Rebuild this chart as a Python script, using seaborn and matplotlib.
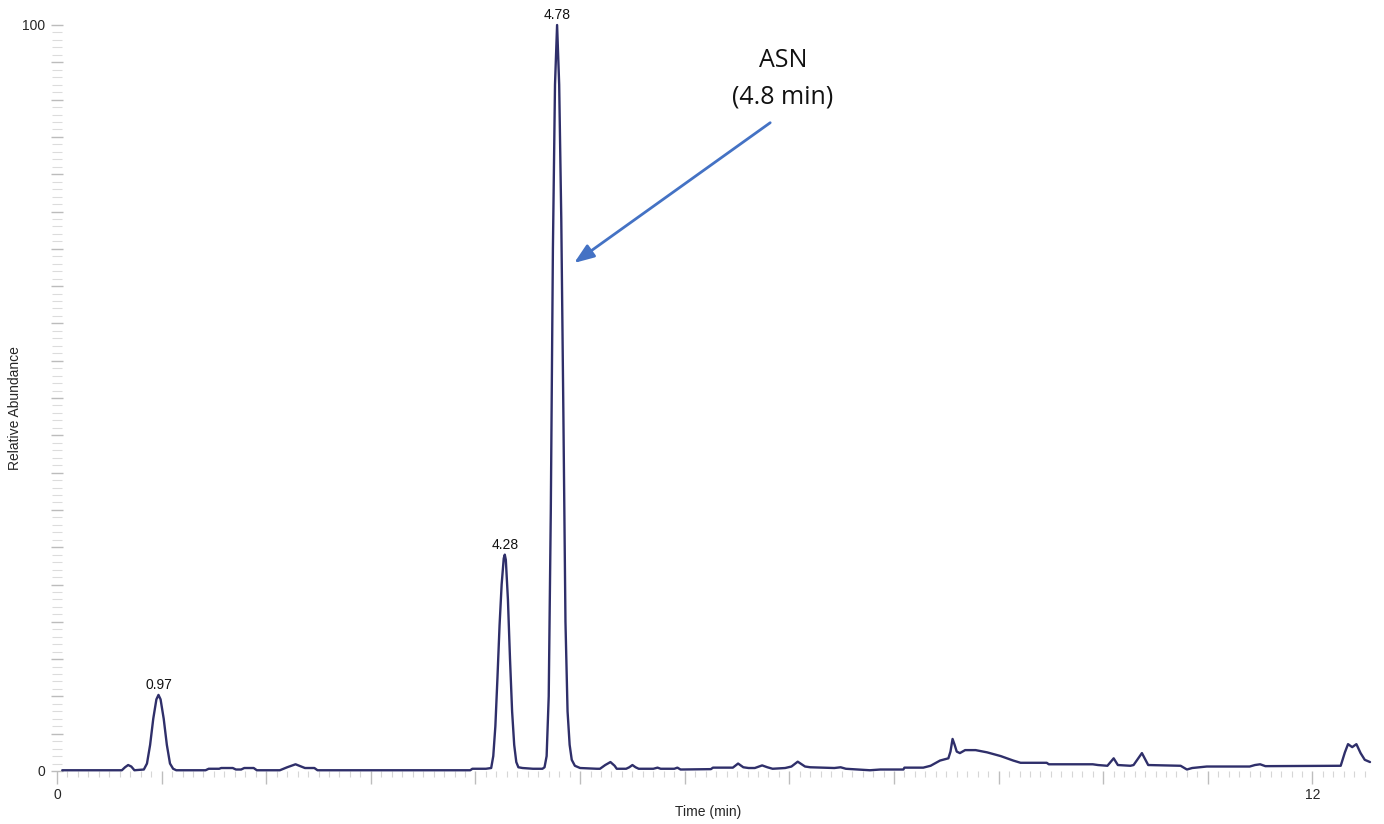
import matplotlib
matplotlib.use("Agg")
import matplotlib.pyplot as plt
from matplotlib.ticker import MultipleLocator, FuncFormatter
import pandas as pd
import seaborn as sns

# Chromatogram trace: retention time (min) and relative abundance (%)
time_min = [
    0.05, 0.62, 0.65, 0.68, 0.71, 0.74, 0.83, 0.86, 0.89, 0.92, 0.95, 0.97,
    0.99, 1.02, 1.05, 1.08, 1.11, 1.14, 1.42, 1.45, 1.55, 1.57, 1.68, 1.71,
    1.76, 1.79, 1.88, 1.91, 2.13, 2.20, 2.28, 2.35, 2.37, 2.46, 2.49, 3.95,
    3.97, 4.05, 4.10, 4.15, 4.17, 4.19, 4.21, 4.23, 4.25, 4.27, 4.28, 4.29,
    4.31, 4.33, 4.35, 4.37, 4.39, 4.41, 4.45, 4.55, 4.60, 4.64, 4.66, 4.68,
    4.70, 4.72, 4.74, 4.76, 4.78, 4.80, 4.82, 4.84, 4.86, 4.88, 4.90, 4.92,
    4.95, 5.00, 5.16, 5.19, 5.24, 5.29, 5.33, 5.35, 5.44, 5.47, 5.50, 5.53,
    5.56, 5.70, 5.74, 5.77, 5.90, 5.93, 5.96, 6.25, 6.27, 6.46, 6.51, 6.56,
    6.61, 6.67, 6.74, 6.79, 6.84, 6.96, 7.02, 7.08, 7.15, 7.20, 7.43, 7.49,
    7.54, 7.77, 7.87, 8.09, 8.10, 8.28, 8.35, 8.44, 8.52, 8.54, 8.56, 8.58,
    8.60, 8.63, 8.68, 8.78, 8.89, 9.02, 9.14, 9.21, 9.46, 9.48, 9.65, 9.90,
    9.95, 10.04, 10.07, 10.10, 10.14, 10.26, 10.29, 10.33, 10.37, 10.40,
    10.43, 10.74, 10.80, 10.85, 10.99, 11.40, 11.45, 11.50, 11.55, 12.27,
    12.31, 12.34, 12.38, 12.42, 12.46, 12.50, 12.55,
]
abundance = [
    0.1, 0.1, 0.5, 0.8, 0.6, 0.1, 0.2, 1.0, 3.5, 7.0, 9.6, 10.2,
    9.6, 7.0, 3.5, 1.0, 0.3, 0.1, 0.1, 0.3, 0.3, 0.4, 0.4, 0.2,
    0.2, 0.4, 0.4, 0.1, 0.1, 0.5, 0.9, 0.5, 0.4, 0.4, 0.1, 0.1,
    0.3, 0.3, 0.3, 0.4, 2.0, 6.0, 12.5, 19.5, 25.0, 28.5, 29.0, 28.3,
    23.0, 15.0, 8.0, 3.5, 1.2, 0.5, 0.4, 0.3, 0.3, 0.3, 0.5, 2.0,
    10.0, 35.0, 70.0, 92.0, 100.0, 92.0, 74.0, 48.0, 20.0, 8.0, 3.5, 1.5,
    0.7, 0.4, 0.3, 0.3, 0.8, 1.2, 0.7, 0.3, 0.3, 0.5, 0.8, 0.5,
    0.3, 0.3, 0.45, 0.3, 0.3, 0.45, 0.2, 0.25, 0.45, 0.45, 1.0, 0.5,
    0.4, 0.4, 0.75, 0.5, 0.3, 0.4, 0.6, 1.25, 0.6, 0.5, 0.4, 0.5,
    0.3, 0.1, 0.2, 0.2, 0.45, 0.45, 0.7, 1.4, 1.7, 2.6, 4.3, 3.5,
    2.6, 2.4, 2.8, 2.8, 2.5, 2.0, 1.4, 1.1, 1.1, 0.9, 0.9, 0.9,
    0.8, 0.7, 1.2, 1.7, 0.8, 0.7, 0.8, 1.6, 2.4, 1.6,
    0.8, 0.7, 0.2, 0.4, 0.6, 0.6, 0.8, 0.9, 0.65, 0.7,
    2.5, 3.6, 3.2, 3.6, 2.4, 1.5, 1.2,
]

# Labelled peaks (retention time, apex abundance)
peak_times = [0.97, 4.28, 4.78]
peak_heights = [10.2, 29.0, 100.0]
peak_labels = ["0.97", "4.28", "4.78"]

x_tick_values = [0, 12]
y_tick_values = [0, 100]

trace = pd.DataFrame({"Time (min)": time_min, "Relative Abundance": abundance})

sns.set_style("white")
plt.rcParams["font.family"] = ["Liberation Sans", "DejaVu Sans"]

fig = plt.figure(figsize=(13.84, 8.24), dpi=100)
ax = fig.add_axes([57 / 1384, 53 / 824, 1313 / 1384, 746 / 824])

sns.lineplot(data=trace, x="Time (min)", y="Relative Abundance", ax=ax,
             sort=False, color="#2f2f6a", linewidth=1.7, clip_on=False)

ax.set_xlim(0, 12.55)
ax.set_ylim(0, 100)
for side in ax.spines.values():
    side.set_visible(False)

# X axis: minute ticks with 0.1 min minor ticks, labels only at the ends
ax.xaxis.set_major_locator(MultipleLocator(1))
ax.xaxis.set_minor_locator(MultipleLocator(0.1))
ax.xaxis.set_major_formatter(
    FuncFormatter(lambda v, p: f"{v:.0f}" if round(v) in x_tick_values else ""))
ax.tick_params(axis="x", which="major", direction="out", length=9, width=1,
               color="#bdbdbd", labelsize=10, pad=3, bottom=True)
ax.tick_params(axis="x", which="minor", direction="out", length=4, width=0.8,
               color="#d6d6d6", bottom=True)

# Y axis: 5 % ticks with 1 % minor ticks, labels only at 0 and 100
ax.yaxis.set_major_locator(MultipleLocator(5))
ax.yaxis.set_minor_locator(MultipleLocator(1))
ax.yaxis.set_major_formatter(
    FuncFormatter(lambda v, p: f"{v:.0f}" if round(v) in y_tick_values else ""))
ax.tick_params(axis="y", which="major", direction="inout", length=9, width=1,
               color="#bcbcbc", labelsize=10, pad=4, left=True)
ax.tick_params(axis="y", which="minor", direction="inout", length=7, width=0.8,
               color="#dcdcdc", left=True)

ax.set_xlabel("Time (min)", fontsize=10)
ax.set_ylabel("Relative Abundance", fontsize=10)
ax.xaxis.set_label_coords(0.496, -0.046)
ax.yaxis.set_label_coords(-0.027, 0.487)

for t, h, lab in zip(peak_times, peak_heights, peak_labels):
    ax.annotate(lab, xy=(t, h), xytext=(0, 2), textcoords="offset points",
                ha="center", va="bottom", fontsize=10, color="#111111",
                annotation_clip=False)

# Callout for the asparagine peak
ax.text(6.94, 95.3, "ASN", ha="center", va="center", fontsize=18,
        family="Open Sans", color="#111111")
ax.text(6.94, 90.3, "(4.8 min)", ha="center", va="center", fontsize=18,
        family="Open Sans", color="#111111")
ax.annotate("", xy=(4.943, 68.1), xytext=(6.817, 86.9),
            arrowprops=dict(arrowstyle="-|>,head_length=0.8,head_width=0.3",
                            color="#4472C4", lw=2, mutation_scale=15,
                            shrinkA=0, shrinkB=0))

fig.savefig("out.png", dpi=100, facecolor="white")
